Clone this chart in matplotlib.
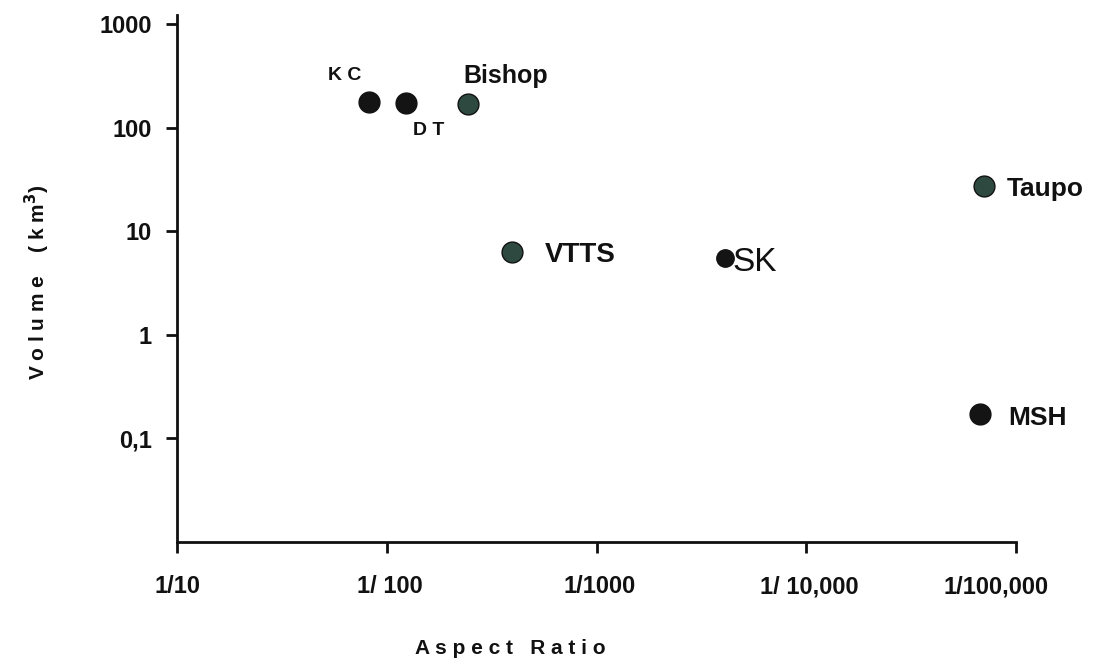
import matplotlib
matplotlib.use("Agg")
import matplotlib.pyplot as plt
from matplotlib.transforms import ScaledTranslation

plt.rcParams['font.family'] = ['Liberation Sans', 'DejaVu Sans']

names = ["KC", "DT", "Bishop", "VTTS", "SK", "Taupo", "MSH"]
inv_aspect = [82, 124, 243, 394, 4110, 70500, 67400]
volume = [177, 174, 170, 6.3, 5.5, 27.3, 0.172]
colors = ["#141414", "#141414", "#2e4a40", "#2e4a40", "#141414", "#2e4a40", "#141414"]
sizes = [15, 15, 15, 15, 12.5, 15, 15]

x_ticks = [10, 100, 1000, 10000, 100000]
x_ticklabels = ["1/10", "1/ 100", "1/1000", "1/ 10,000", "1/100,000"]
y_ticks = [0.1, 1, 10, 100, 1000]
y_ticklabels = ["0,1", "1", "10", "100", "1000"]

# label text, offsets (points) and styles
label_off = {
    "KC": ("K C", -17, 19, 14, 'bold', 'center'),
    "DT": ("D T", 16, -20, 14, 'bold', 'center'),
    "Bishop": ("Bishop", -3, 20, 18, 'bold', 'left'),
    "VTTS": ("VTTS", 24, -2, 20, 'bold', 'left'),
    "SK": ("SK", 5, -3, 24, 'normal', 'left'),
    "Taupo": ("Taupo", 16, -2, 19, 'bold', 'left'),
    "MSH": ("MSH", 20, -3, 19, 'bold', 'left'),
}

fig = plt.figure(figsize=(10.99, 6.68), dpi=100)
ax = fig.add_axes([177/1099, 1-542/668, (1016-177)/1099, (542-15)/668])
ax.set_xscale('log')
ax.set_yscale('log')
ax.set_xlim(10, 100000)
ax.set_ylim(0.01, 1220)

for n, x, y, c, s in zip(names, inv_aspect, volume, colors, sizes):
    ax.plot([x], [y], 'o', ms=s, color=c, mec='#111111', mew=1.0, zorder=3)
    txt, dx, dy, fs, fw, ha = label_off[n]
    ax.annotate(txt, (x, y), xytext=(dx, dy), textcoords='offset points',
                fontsize=fs, fontweight=fw, ha=ha, va='center', color='#111111')

ax.set_xticks(x_ticks)
ax.set_xticklabels(x_ticklabels)
ax.set_yticks(y_ticks)
ax.set_yticklabels(y_ticklabels)
ax.minorticks_off()
ax.tick_params(axis='both', direction='out', length=8, width=2, labelsize=17, colors='#111111')
ax.tick_params(axis='x', pad=16)
ax.tick_params(axis='y', pad=10)
for lbl in ax.get_xticklabels() + ax.get_yticklabels():
    lbl.set_fontweight('bold')
# hand-placed shifts of x tick labels (points)
x_shift = [0, 2, 2, 2, -14]
for lbl, sh in zip(ax.get_xticklabels(), x_shift):
    lbl.set_transform(lbl.get_transform() + ScaledTranslation(sh/72, 0, fig.dpi_scale_trans))

for side in ['top', 'right']:
    ax.spines[side].set_visible(False)
for side in ['left', 'bottom']:
    ax.spines[side].set_linewidth(2)
    ax.spines[side].set_color('#111111')

fig.text(37/1099, 1-282/668, "V o l u m e    ( k m$^{\\mathbf{3}}$)", rotation=90,
         ha='center', va='center', fontsize=15, fontweight='bold', color='#111111')
fig.text(510/1099, 1-648/668, "A s p e c t   R a t i o", ha='center', va='center',
         fontsize=15, fontweight='bold', color='#111111')

fig.savefig("out.png", dpi=100, facecolor='white')
